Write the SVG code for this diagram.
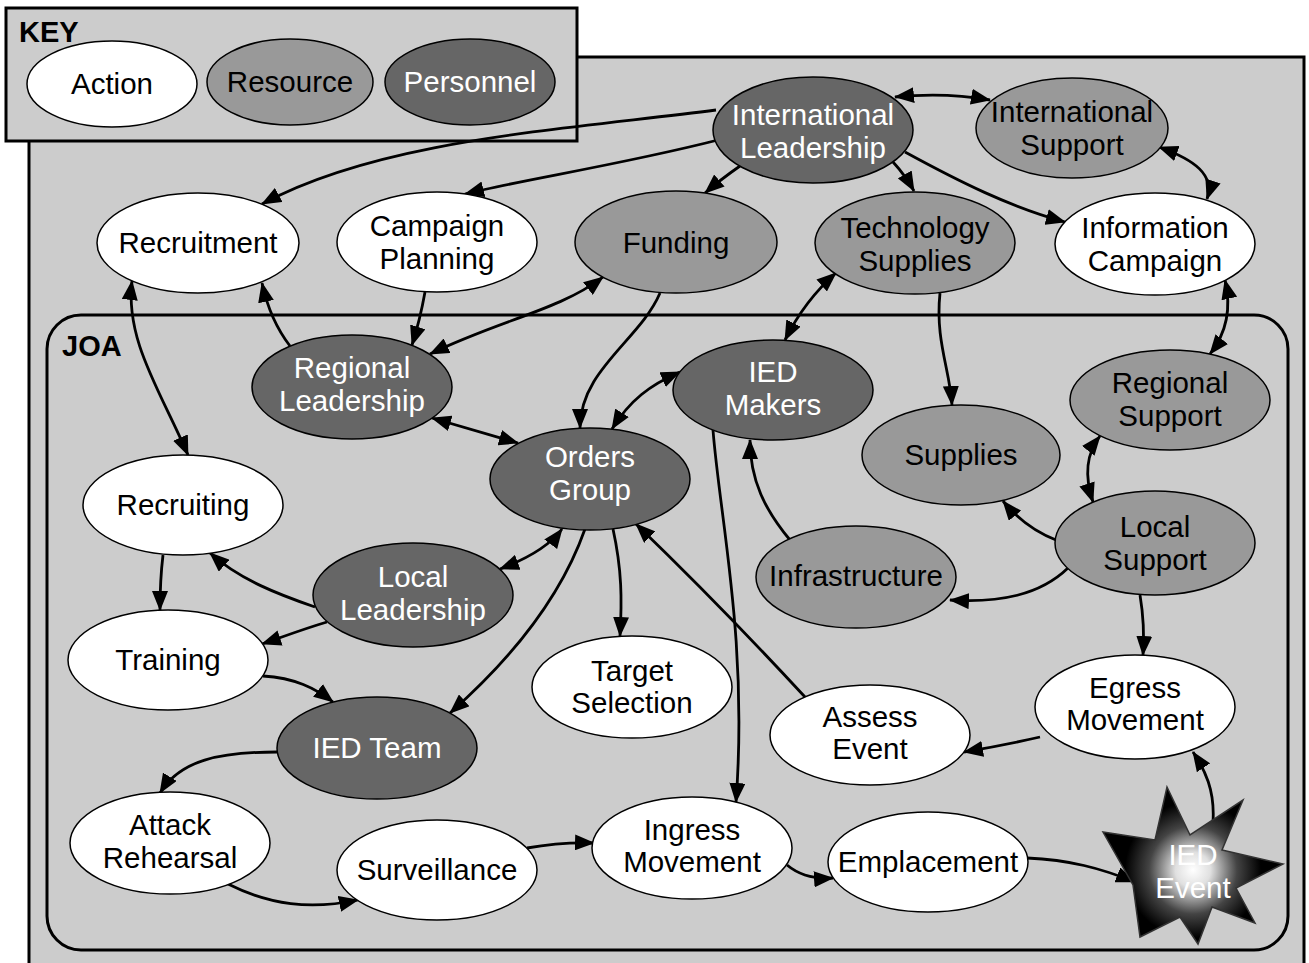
<svg xmlns="http://www.w3.org/2000/svg" width="1309" height="963" viewBox="0 0 1309 963">
<style>
.frame{fill:#ccc;stroke:#000;stroke-width:3}
.act{fill:#fff;stroke:#000;stroke-width:1.5}
.res{fill:#999;stroke:#000;stroke-width:1.5}
.per{fill:#666;stroke:#000;stroke-width:1.5}
text{font-family:"Liberation Sans",Arial,sans-serif;font-size:29.5px;text-anchor:middle;fill:#000}
text.w{fill:#fff}
text.hd{font-weight:bold;font-size:29px;text-anchor:start}
.c path{fill:none;stroke:#000;stroke-width:2.8}
.c .u{marker-end:url(#ah)}
.c .b{marker-start:url(#ah);marker-end:url(#ah)}
</style>
<defs>
<marker id="ah" viewBox="0 0 20 16" refX="19" refY="8" markerWidth="20" markerHeight="16" markerUnits="userSpaceOnUse" orient="auto-start-reverse">
<path d="M0,0 L20,8 L0,16 z" fill="#000"/>
</marker>
<radialGradient id="glow" cx="1193" cy="870" r="80" gradientUnits="userSpaceOnUse">
<stop offset="0" stop-color="#fff"/>
<stop offset="0.22" stop-color="#e0e0e0"/>
<stop offset="0.55" stop-color="#444"/>
<stop offset="0.85" stop-color="#000"/>
</radialGradient>
</defs>
<rect width="1309" height="963" fill="#fff"/>
<rect class="frame" x="29" y="57" width="1275" height="930"/>
<g id="key">
<rect class="frame" x="6" y="8" width="571" height="133"/>
<text class="hd" x="19" y="42">KEY</text>
<ellipse class="act" cx="112" cy="84" rx="85" ry="43"/>
<text x="112" y="94">Action</text>
<ellipse class="res" cx="290" cy="82" rx="83" ry="43"/>
<text x="290" y="92">Resource</text>
<ellipse class="per" cx="470" cy="82" rx="85" ry="43"/>
<text class="w" x="470" y="92">Personnel</text>
</g>
<g id="joa">
<rect x="47" y="315" width="1241" height="635" rx="34" fill="none" stroke="#000" stroke-width="3"/>
<text class="hd" x="62" y="356">JOA</text>
</g>
<g class="c" id="connectors">
<path class="b" d="M895,97 Q945,92 990,100"/>
<path class="b" d="M1159,147 C1195,160 1215,175 1207,199"/>
<path class="u" d="M716,110 C560,130 380,140 262,204"/>
<path class="u" d="M718,140 C620,165 520,180 465,194"/>
<path class="u" d="M740,166 Q720,180 705,193"/>
<path class="u" d="M893,162 Q905,175 914,191"/>
<path class="u" d="M905,152 C960,182 1010,207 1065,222"/>
<path class="b" d="M603,277 C560,310 500,320 430,354"/>
<path class="u" d="M425,292 Q420,320 412,345"/>
<path class="u" d="M290,346 Q270,320 262,283"/>
<path class="b" d="M132,281 C125,340 160,390 188,455"/>
<path class="b" d="M836,273 Q805,300 785,340"/>
<path class="u" d="M940,293 C935,340 950,370 952,405"/>
<path class="b" d="M1225,280 C1232,310 1225,335 1210,354"/>
<path class="u" d="M660,293 C640,340 580,370 580,428"/>
<path class="b" d="M680,372 C650,385 630,400 612,429"/>
<path class="b" d="M432,418 L518,443"/>
<path class="b" d="M1100,436 C1085,455 1085,478 1093,502"/>
<path class="u" d="M1056,540 Q1025,528 1003,501"/>
<path class="u" d="M790,540 C765,510 750,480 750,440"/>
<path class="u" d="M1068,568 C1040,595 1000,603 950,600"/>
<path class="u" d="M1140,595 Q1145,625 1143,655"/>
<path class="b" d="M500,569 Q545,552 562,529"/>
<path class="u" d="M315,607 C280,595 240,580 210,553"/>
<path class="u" d="M327,622 C300,630 280,638 262,644"/>
<path class="u" d="M163,555 Q160,580 160,610"/>
<path class="u" d="M585,529 C560,600 510,660 450,713"/>
<path class="u" d="M613,529 C622,570 622,600 620,636"/>
<path class="u" d="M805,697 Q720,605 636,524"/>
<path class="u" d="M713,430 C720,520 748,640 736,802"/>
<path class="u" d="M263,676 C295,678 315,688 333,702"/>
<path class="u" d="M277,752 C220,752 180,760 160,793"/>
<path class="u" d="M228,884 C270,905 310,910 358,900"/>
<path class="u" d="M527,848 Q560,842 594,843"/>
<path class="u" d="M787,865 Q805,880 833,878"/>
<path class="u" d="M1027,858 C1070,860 1100,868 1135,882"/>
<path class="u" d="M1213,822 C1215,790 1205,770 1193,752"/>
<path class="u" d="M1040,737 Q1005,745 964,752"/>
</g>
<g id="intl-leadership"><ellipse class="per" cx="813" cy="130" rx="100" ry="53"/><text class="w" x="813" y="125">International</text><text class="w" x="813" y="158">Leadership</text></g>
<g id="intl-support"><ellipse class="res" cx="1072" cy="128" rx="96" ry="50"/><text x="1072" y="122">International</text><text x="1072" y="155">Support</text></g>
<g id="recruitment"><ellipse class="act" cx="198" cy="243" rx="101" ry="50"/><text x="198" y="253">Recruitment</text></g>
<g id="campaign-planning"><ellipse class="act" cx="437" cy="242" rx="100" ry="50"/><text x="437" y="236">Campaign</text><text x="437" y="269">Planning</text></g>
<g id="funding"><ellipse class="res" cx="676" cy="242" rx="101" ry="51"/><text x="676" y="253">Funding</text></g>
<g id="technology-supplies"><ellipse class="res" cx="915" cy="243" rx="100" ry="51"/><text x="915" y="238">Technology</text><text x="915" y="271">Supplies</text></g>
<g id="information-campaign"><ellipse class="act" cx="1155" cy="244" rx="100" ry="51"/><text x="1155" y="238">Information</text><text x="1155" y="271">Campaign</text></g>
<g id="regional-leadership"><ellipse class="per" cx="352" cy="387" rx="100" ry="52"/><text class="w" x="352" y="378">Regional</text><text class="w" x="352" y="411">Leadership</text></g>
<g id="ied-makers"><ellipse class="per" cx="773" cy="390" rx="100" ry="50"/><text class="w" x="773" y="382">IED</text><text class="w" x="773" y="415">Makers</text></g>
<g id="regional-support"><ellipse class="res" cx="1170" cy="400" rx="100" ry="50"/><text x="1170" y="393">Regional</text><text x="1170" y="426">Support</text></g>
<g id="orders-group"><ellipse class="per" cx="590" cy="479" rx="100" ry="51"/><text class="w" x="590" y="467">Orders</text><text class="w" x="590" y="500">Group</text></g>
<g id="supplies"><ellipse class="res" cx="961" cy="455" rx="99" ry="50"/><text x="961" y="465">Supplies</text></g>
<g id="recruiting"><ellipse class="act" cx="183" cy="505" rx="100" ry="50"/><text x="183" y="515">Recruiting</text></g>
<g id="local-support"><ellipse class="res" cx="1155" cy="543" rx="100" ry="52"/><text x="1155" y="537">Local</text><text x="1155" y="570">Support</text></g>
<g id="local-leadership"><ellipse class="per" cx="413" cy="595" rx="100" ry="52"/><text class="w" x="413" y="587">Local</text><text class="w" x="413" y="620">Leadership</text></g>
<g id="infrastructure"><ellipse class="res" cx="856" cy="577" rx="100" ry="51"/><text x="856" y="586">Infrastructure</text></g>
<g id="training"><ellipse class="act" cx="168" cy="660" rx="100" ry="50"/><text x="168" y="670">Training</text></g>
<g id="target-selection"><ellipse class="act" cx="632" cy="687" rx="100" ry="51"/><text x="632" y="681">Target</text><text x="632" y="713">Selection</text></g>
<g id="egress-movement"><ellipse class="act" cx="1135" cy="707" rx="100" ry="52"/><text x="1135" y="698">Egress</text><text x="1135" y="730">Movement</text></g>
<g id="assess-event"><ellipse class="act" cx="870" cy="735" rx="100" ry="50"/><text x="870" y="727">Assess</text><text x="870" y="759">Event</text></g>
<g id="ied-team"><ellipse class="per" cx="377" cy="748" rx="100" ry="51"/><text class="w" x="377" y="758">IED Team</text></g>
<g id="attack-rehearsal"><ellipse class="act" cx="170" cy="843" rx="100" ry="51"/><text x="170" y="835">Attack</text><text x="170" y="868">Rehearsal</text></g>
<g id="surveillance"><ellipse class="act" cx="437" cy="870" rx="100" ry="50"/><text x="437" y="880">Surveillance</text></g>
<g id="ingress-movement"><ellipse class="act" cx="692" cy="848" rx="100" ry="51"/><text x="692" y="840">Ingress</text><text x="692" y="872">Movement</text></g>
<g id="emplacement"><ellipse class="act" cx="928" cy="862" rx="100" ry="50"/><text x="928" y="872">Emplacement</text></g>
<g id="ied-event"><polygon points="1167,787 1190,835 1243,800 1222,850 1283,864 1236,888 1255,923 1212,907 1198,944 1180,917 1140,937 1133,885 1103,832 1155,840" fill="url(#glow)" stroke="#333" stroke-width="1.5" stroke-linejoin="miter"/><text class="w" x="1193" y="865">IED</text><text class="w" x="1193" y="898">Event</text></g>
</svg>
